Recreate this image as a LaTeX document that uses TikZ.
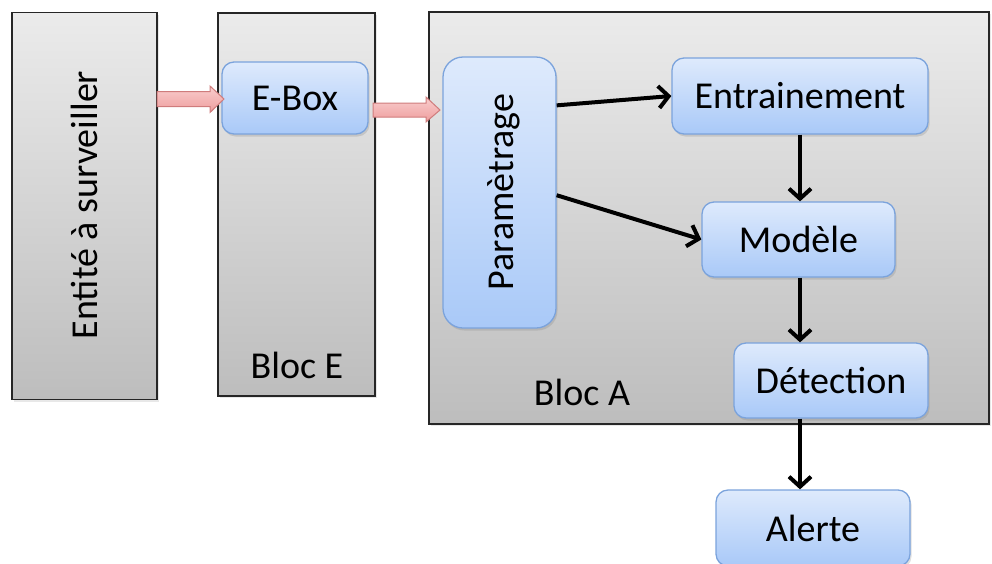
\documentclass[tikz,border=0pt]{standalone}
\usepackage{fontspec}
\setmainfont{Carlito}
\usetikzlibrary{arrows.meta,shadows,calc}
\definecolor{grayTop}{HTML}{EBEBEB}
\definecolor{grayBot}{HTML}{BDBDBD}
\definecolor{blueTop}{HTML}{DEEAFC}
\definecolor{blueBot}{HTML}{A9C9F8}
\definecolor{blueBorder}{HTML}{7BA3DC}
\definecolor{pinkTop}{HTML}{F9CDCD}
\definecolor{pinkBot}{HTML}{EE9E9E}
\definecolor{pinkBorder}{HTML}{CF7C7C}
\begin{document}
\begin{tikzpicture}[x=1pt,y=-1pt,
  font=\fontsize{38}{45}\selectfont,
  grayblock/.style={draw=black!85, line width=1.3pt, top color=grayTop, bottom color=grayBot,
    inner sep=0pt, drop shadow={opacity=0.18, shadow xshift=2pt, shadow yshift=-2pt}},
  bluebox/.style={draw=blueBorder, line width=1.3pt, rounded corners=12pt, top color=blueTop,
    bottom color=blueBot, inner sep=0pt, text=black,
    drop shadow={opacity=0.25, shadow xshift=1.5pt, shadow yshift=-2.5pt}},
  flow/.style={-{Straight Barb[length=10pt,width=22pt]}, line width=4pt, black},
  pinkarrow/.style={draw=pinkBorder, line width=1pt, top color=pinkTop, bottom color=pinkBot,
    line join=miter},
  lbl/.style={inner sep=0pt, anchor=base}
]
\useasboundingbox (0,0) rectangle (992,563);

% big gray blocks
\node[grayblock, minimum width=145pt, minimum height=387pt] (ent) at (84.5,206) {};
\node[grayblock, minimum width=157pt, minimum height=383pt] (blocE) at (296.5,204.5) {};
\node[grayblock, minimum width=560pt, minimum height=412pt] (blocA) at (709,218) {};

% texts of gray blocks
\node[lbl, rotate=90] (entText) at (97,205) {Entité à surveiller};
\node[lbl] (blocEText) at (297,378) {Bloc E};
\node[lbl] (blocAText) at (582,405) {Bloc A};

% blue boxes
\node[bluebox, minimum width=146pt, minimum height=72pt] (ebox) at (295,98) {E-Box};
\node[bluebox, rounded corners=20pt, minimum width=113pt, minimum height=271pt] (param) at (499.5,192.5) {};
\node[lbl, rotate=90] (paramText) at (513.5,192) {Paramètrage};
\node[bluebox, minimum width=256pt, minimum height=76pt] (entr) at (800,96) {Entrainement};
\node[bluebox, minimum width=193pt, minimum height=75pt] (mod) at (798.5,239.5) {Modèle};
\node[bluebox, minimum width=194pt, minimum height=75pt] (det) at (831,380.5) {Détection};
\node[bluebox, minimum width=194pt, minimum height=76pt] (alerte) at (813,528) {Alerte};

% pink block arrows
\path[pinkarrow] (157,91.5) -- (210,91.5) -- (210,86) -- (224,99) -- (210,112.5) -- (210,106.5)
  -- (157,106.5) -- cycle;
\path[pinkarrow] (373,103) -- (426,103) -- (426,97) -- (440,110) -- (426,122) -- (426,117)
  -- (373,117) -- cycle;

% black flow arrows
\draw[flow] ($(param.north east)!0.18!(param.south east)$) -- (entr.west);
\draw[flow] ($(param.north east)!0.51!(param.south east)$) -- (mod.west);
\draw[flow] (entr.south) -- (entr.south |- mod.north);
\draw[flow] (entr.south |- mod.south) -- (entr.south |- det.north);
\draw[flow] (entr.south |- det.south) -- (entr.south |- alerte.north);
\end{tikzpicture}
\end{document}
